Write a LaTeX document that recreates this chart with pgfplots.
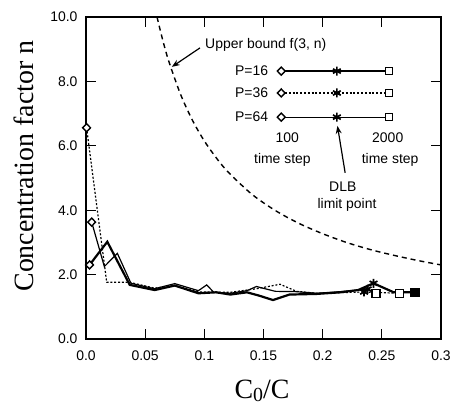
\documentclass[border=0pt]{standalone}
\usepackage{pgfplots}
\pgfplotsset{compat=1.18}
\usepackage{fontspec}
\setmainfont{Liberation Sans}
\newfontfamily\serifT{Liberation Serif}
\usetikzlibrary{arrows.meta}
\newcommand{\lbl}{\fontsize{14}{16}\selectfont}
\begin{document}
\begin{tikzpicture}
\useasboundingbox (0,0) rectangle (462bp,405bp);
\begin{axis}[
  at={(86bp,66bp)}, anchor=south west,
  width=355bp, height=322bp, scale only axis,
  xmin=0, xmax=0.3, ymin=0, ymax=10,
  clip=false,
  xtick={0,0.05,0.1,0.15,0.2,0.25,0.3},
  xticklabels={0.0,0.05,0.1,0.15,0.2,0.25,0.3},
  ytick={0,2,4,6,8,10},
  yticklabels={0.0,2.0,4.0,6.0,8.0,10.0},
  tick align=inside, tick pos=both, major tick length=10bp,
  minor tick num=0,
  axis line style={line width=1.2bp},
  every tick/.style={line width=1.1bp, black},
  /pgf/number format/assume math mode=true,
  ticklabel style={font=\lbl},
  xticklabel style={yshift=-8bp},
  yticklabel style={xshift=-5bp},
  xlabel={C\raisebox{-0.28ex}{\fontsize{20}{20}\selectfont 0}/C},
  ylabel={Concentration factor n},
  xlabel style={at={(axis description cs:0.496,-0.161)}, anchor=center, font=\serifT\fontsize{28}{30}\selectfont},
  ylabel style={at={(axis description cs:-0.175,0.537)}, anchor=center, font=\serifT\fontsize{28}{30}\selectfont},
  dmark/.style={only marks, mark=diamond*, mark size=4bp, mark options={fill=white, line width=1.4bp, xscale=1.3}},
  smark/.style={only marks, mark=asterisk, mark size=4.5bp, mark options={line width=1.7bp}},
]
% upper bound curve
\addplot[black, line width=1.4bp, dash pattern=on 5bp off 4bp, smooth] coordinates {
 (0.060,10.0)(0.065,9.26)(0.070,8.62)(0.080,7.59)(0.090,6.79)(0.100,6.15)
 (0.110,5.63)(0.120,5.19)(0.140,4.50)(0.160,3.99)(0.180,3.59)(0.200,3.27)
 (0.220,3.00)(0.240,2.78)(0.260,2.60)(0.280,2.44)(0.300,2.30)};
% P=16 thick
\addplot[black, line width=2.2bp] coordinates {
 (0.003,2.30)(0.018,3.02)(0.037,1.68)(0.058,1.52)(0.075,1.66)(0.095,1.42)(0.110,1.45)
 (0.122,1.38)(0.136,1.45)(0.146,1.35)(0.158,1.21)(0.172,1.38)(0.195,1.40)(0.215,1.45)
 (0.230,1.52)(0.243,1.73)(0.260,1.45)(0.278,1.45)};
% P=36 dotted
\addplot[black, line width=1.2bp, dash pattern=on 2bp off 1.8bp] coordinates {
 (0.0005,6.56)(0.0175,1.76)(0.037,1.76)(0.058,1.58)(0.075,1.66)(0.095,1.46)(0.122,1.45)
 (0.144,1.56)(0.164,1.70)(0.178,1.48)(0.195,1.42)(0.215,1.44)(0.235,1.46)(0.250,1.44)(0.265,1.42)};
% P=64 thin
\addplot[black, line width=1.2bp] coordinates {
 (0.0048,3.63)(0.0155,2.25)(0.0265,2.66)(0.038,1.73)(0.058,1.56)(0.075,1.72)(0.095,1.50)
 (0.102,1.68)(0.108,1.45)(0.122,1.42)(0.136,1.50)(0.144,1.63)(0.160,1.48)(0.178,1.47)
 (0.195,1.42)(0.215,1.47)(0.238,1.55)(0.245,1.42)};
% markers on data
\addplot[dmark] coordinates {(0.0005,6.56)(0.003,2.30)(0.0048,3.63)};
\addplot[smark] coordinates {(0.243,1.73)(0.235,1.46)(0.238,1.55)};
\addplot[only marks, mark=square*, mark size=4bp, mark options={fill=white, line width=1.4bp}] coordinates {(0.265,1.42)(0.245,1.42)};
\addplot[only marks, mark=square*, mark size=4bp, mark options={fill=black, line width=1.2bp}] coordinates {(0.278,1.45)};
% legend sample lines
\addplot[black, line width=2.2bp] coordinates {(0.165,8.32)(0.256,8.32)};
\addplot[black, line width=1.2bp, dash pattern=on 2bp off 1.8bp] coordinates {(0.165,7.64)(0.256,7.64)};
\addplot[black, line width=1.2bp] coordinates {(0.165,6.89)(0.256,6.89)};
\addplot[dmark] coordinates {(0.165,8.32)(0.165,7.64)(0.165,6.89)};
\addplot[smark] coordinates {(0.212,8.32)(0.212,7.64)(0.212,6.89)};
\addplot[only marks, mark=square*, mark size=3.6bp, mark options={fill=white, line width=1.3bp}] coordinates {(0.256,8.32)(0.256,7.64)(0.256,6.89)};
% annotation text
\node[anchor=west, font=\lbl, inner sep=0pt] at (axis cs:0.1006,9.13) {Upper bound f(3, n)};
\draw[-{Stealth[length=8bp,width=6bp]}, line width=1.2bp] (axis cs:0.0963,9.04) -- (axis cs:0.0725,8.45);
\node[anchor=east, font=\lbl, inner sep=0pt] at (axis cs:0.154,8.32) {P=16};
\node[anchor=east, font=\lbl, inner sep=0pt] at (axis cs:0.154,7.64) {P=36};
\node[anchor=east, font=\lbl, inner sep=0pt] at (axis cs:0.154,6.89) {P=64};
\node[font=\lbl, inner sep=0pt] at (axis cs:0.170,6.24) {100};
\node[font=\lbl, inner sep=0pt] at (axis cs:0.166,5.56) {time step};
\node[font=\lbl, inner sep=0pt] at (axis cs:0.255,6.24) {2000};
\node[font=\lbl, inner sep=0pt] at (axis cs:0.257,5.56) {time step};
\node[font=\lbl, inner sep=0pt] at (axis cs:0.217,4.72) {DLB};
\node[font=\lbl, inner sep=0pt] at (axis cs:0.2206,4.16) {limit point};
\draw[-{Stealth[length=8bp,width=6bp]}, line width=1.2bp] (axis cs:0.219,5.16) -- (axis cs:0.2125,6.62);
\end{axis}
\end{tikzpicture}
\end{document}
